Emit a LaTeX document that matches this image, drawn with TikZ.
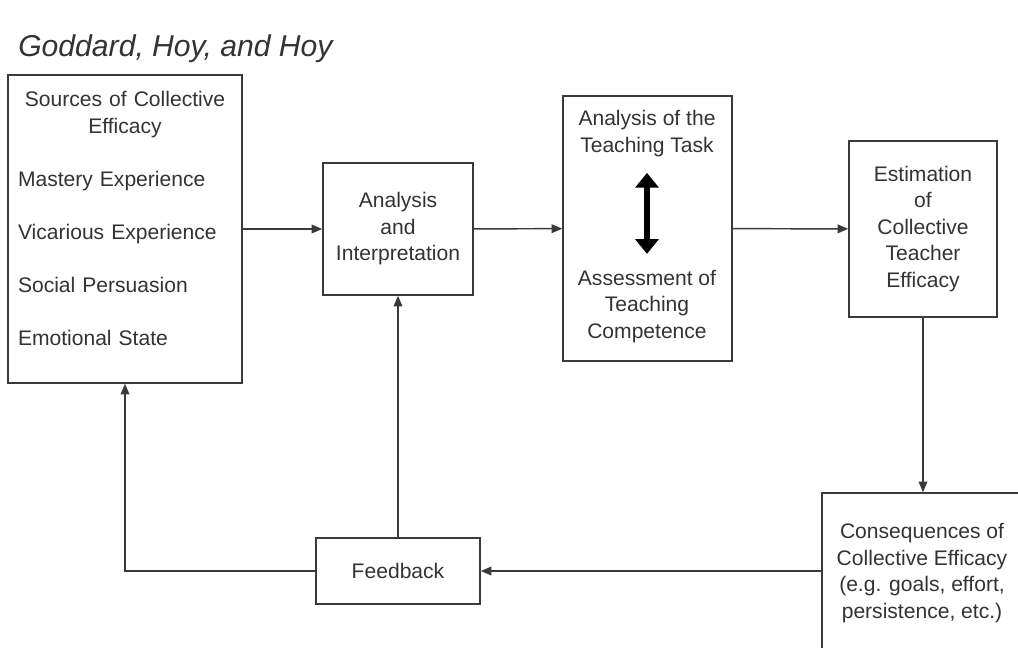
\documentclass[tikz,border=0pt]{standalone}
\usepackage{fontspec}
\setmainfont{Liberation Sans}
\usetikzlibrary{arrows.meta, positioning, calc}
\definecolor{boxline}{HTML}{3A3A3A}
\definecolor{inktext}{HTML}{333333}

\begin{document}
\begin{tikzpicture}[
  x=0.75pt, y=-0.75pt,
  box/.style={rectangle, draw=boxline, line width=1.1pt, fill=white, text=inktext,
    font=\fontsize{15.8pt}{19.9pt}\selectfont, align=center, inner sep=0pt},
  lbl/.style={text=inktext, font=\fontsize{15.8pt}{19.9pt}\selectfont,
    align=center, inner xsep=0pt, inner ysep=12pt},
  arr/.style={draw=boxline, line width=1.1pt, -{Triangle[length=8pt,width=6.5pt]}},
  dbl/.style={draw=black, line width=5pt,
    {Triangle[length=11pt,width=17pt]}-{Triangle[length=11pt,width=17pt]}},
]
  \useasboundingbox (0,0) rectangle (1018,647);

  % title
  \node[anchor=base west, inner sep=0pt, text=inktext,
    font=\fontsize{22.6pt}{27pt}\selectfont\itshape] (title) at (18,56) {Goddard, Hoy, and Hoy};

  % boxes
  \node[box, minimum width=175.5pt, minimum height=231pt, text width=160.5pt, align=left] (sources) at (125,229) {%
    {\centering Sources of Collective\\Efficacy\par}\vspace{19.9pt}%
    Mastery Experience\\[19.9pt]Vicarious Experience\\[19.9pt]Social Persuasion\\[19.9pt]Emotional State\par\vspace*{15.5pt}};
  \node[box, minimum width=112.5pt, minimum height=99pt] (analysis) at (398,229) {Analysis\\and\\Interpretation};
  \node[box, minimum width=126.75pt, minimum height=198.75pt] (mid) at (647.5,228.5) {};
  \node[lbl] (task) at (647,133.5) {Analysis of the\\Teaching Task};
  \node[lbl] (competence) at (647,306.5) {Assessment of\\Teaching\\Competence};
  \node[box, minimum width=111pt, minimum height=132pt] (estimation) at (923,229) {Estimation\\of\\Collective\\Teacher\\Efficacy};
  \node[box, minimum width=150pt, minimum height=120pt] (consequences) at (922,573) {Consequences of\\Collective Efficacy\\(e.g. goals, effort,\\persistence, etc.)};
  \node[box, minimum width=123pt, minimum height=49.5pt] (feedback) at (398,571) {Feedback};

  % connectors
  \draw[dbl] (task) -- (competence);
  \draw[arr] (sources) -- (analysis);
  \draw[arr] (analysis) -- (mid);
  \draw[arr] (mid) -- (estimation);
  \draw[arr] (estimation) -- (estimation |- consequences.north);
  \draw[arr] (consequences.west |- feedback) -- (feedback);
  \draw[arr] (feedback) -- (analysis);
  \draw[arr] (feedback.west) -| (sources.south);
\end{tikzpicture}
\end{document}
